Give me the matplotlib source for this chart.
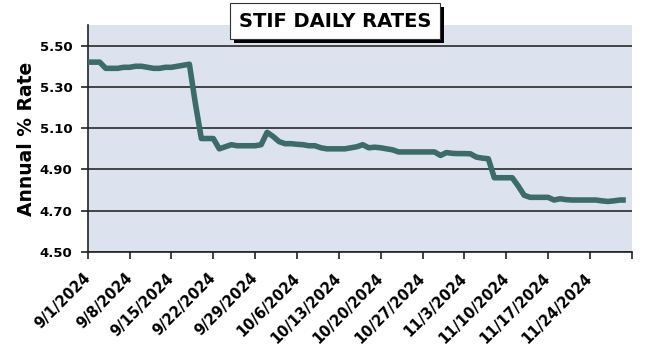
import numpy as np
import pandas as pd
import matplotlib
matplotlib.use('Agg')
import matplotlib.pyplot as plt
from matplotlib.patches import Rectangle
from matplotlib.transforms import ScaledTranslation

# daily STIF rates, 9/1/2024 .. 11/30/2024
dates = pd.date_range('2024-09-01', '2024-11-30', freq='D')
rates = [
	5.42, 5.42, 5.42, 5.39, 5.39, 5.39, 5.395, 5.395, 5.40, 5.40,
	5.395, 5.39, 5.39, 5.395, 5.395, 5.40, 5.405, 5.41, 5.22, 5.05,
	5.05, 5.05, 5.00, 5.01, 5.02, 5.015, 5.015, 5.015, 5.015, 5.02,
	5.08, 5.06, 5.035, 5.025, 5.025, 5.022, 5.02, 5.015, 5.015, 5.005,
	5.00, 5.00, 5.00, 5.00, 5.005, 5.01, 5.02, 5.005, 5.008, 5.005,
	5.00, 4.995, 4.985, 4.985, 4.985, 4.985, 4.985, 4.985, 4.985, 4.968,
	4.982, 4.978, 4.977, 4.977, 4.976, 4.96, 4.955, 4.952, 4.86, 4.86,
	4.86, 4.86, 4.82, 4.775, 4.765, 4.765, 4.765, 4.765, 4.752, 4.758,
	4.754, 4.752, 4.752, 4.752, 4.752, 4.752, 4.748, 4.745, 4.748, 4.752,
	4.752,
]
tick_dates = pd.date_range('2024-09-01', '2024-12-01', freq='7D')
tick_labels = [d.strftime('%-m/%-d/%Y') for d in tick_dates[:-1]] + ['']
y_ticks = [4.50, 4.70, 4.90, 5.10, 5.30, 5.50]

plt.rcParams['font.family'] = 'DejaVu Sans'
plt.rcParams['font.weight'] = 'bold'

fig = plt.figure(figsize=(6.5, 3.57), dpi=100)
ax = fig.add_axes([0.135, 0.294, 0.837, 0.636])
ax.set_facecolor('#dce3ef')

ax.plot(dates, rates, color='#3c6b6a', lw=4, solid_capstyle='butt', zorder=3)

ax.set_ylim(4.5, 5.6)
ax.set_yticks(y_ticks)
ax.set_yticklabels(['%.2f' % v for v in y_ticks], fontsize=9.5, fontweight='bold')
ax.set_xlim(pd.Timestamp('2024-09-01'), pd.Timestamp('2024-12-01'))
ax.set_xticks(tick_dates)
ax.set_xticklabels(tick_labels, rotation=45, ha='right', va='center',
	rotation_mode='anchor', fontsize=10.5, fontweight='bold')
# nudge the slanted date labels a little to the right, like the original
shift = ScaledTranslation(5 / 72, 0, fig.dpi_scale_trans)
for lbl in ax.get_xticklabels():
	lbl.set_transform(lbl.get_transform() + shift)
ax.tick_params(axis='both', direction='out', length=5, width=1.2, color='#222222')
ax.tick_params(axis='y', pad=6)
ax.tick_params(axis='x', pad=12)
ax.grid(axis='y', color='#2a2a2a', lw=1.2, zorder=1)
ax.set_axisbelow(True)

for s in ['top', 'right']:
	ax.spines[s].set_visible(False)
for s in ['left', 'bottom']:
	ax.spines[s].set_color('#222222')
	ax.spines[s].set_linewidth(1.2)

ax.set_ylabel('Annual % Rate', fontsize=13.5, fontweight='bold', labelpad=3)

# title box with drop shadow
title = fig.text(0.515, 0.941, 'STIF DAILY RATES', ha='center', va='center',
	fontsize=14, fontweight='heavy', color='black', zorder=5,
	bbox=dict(boxstyle='square,pad=0.45', fc='white', ec='#333333', lw=0.8))
fig.canvas.draw()
bb = title.get_bbox_patch().get_window_extent()
fig.patches.append(Rectangle((bb.x0 + 4, bb.y0 - 4), bb.width, bb.height,
	transform=None, facecolor='black', edgecolor='none', zorder=4))

fig.savefig('out.png', dpi=100)
